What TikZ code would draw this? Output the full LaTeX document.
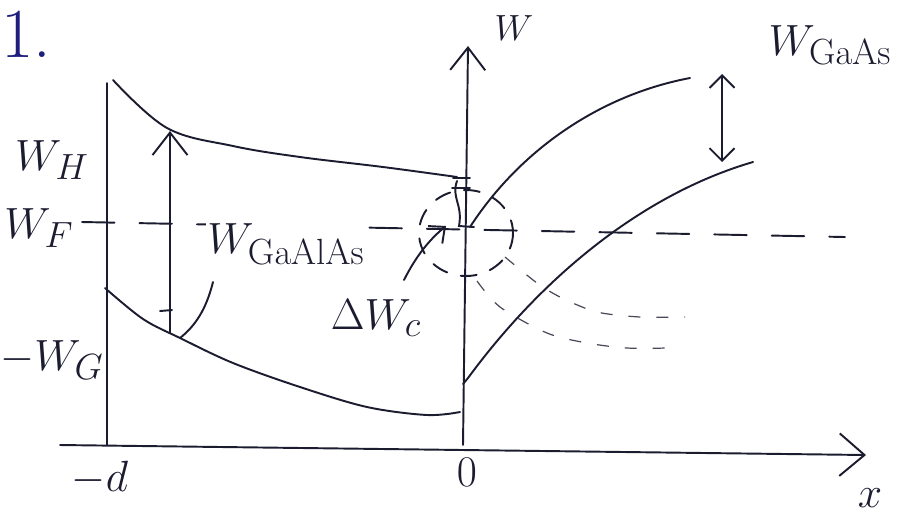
\documentclass[tikz,border=0pt]{standalone}
\usepackage{amsmath}
\usepackage{tikz}
\usetikzlibrary{arrows.meta}
\definecolor{inkc}{RGB}{28,28,48}
\definecolor{penblue}{RGB}{30,30,125}

\begin{document}
\begin{tikzpicture}[
  x=0.02cm, y=-0.02cm,
  ink/.style={line width=1.1pt, inkc, line cap=round},
  faint/.style={line width=0.7pt, inkc!80},
  dashl/.style={ink, dash pattern=on 6.5mm off 5mm},
  dashc/.style={ink, dash pattern=on 3.2mm off 2.8mm},
  dashs/.style={faint, dash pattern=on 2.4mm off 3.2mm},
  barb/.style={-{Straight Barb[length=4.5mm, width=7mm, line width=1.1pt]}},
  smallbarb/.style={-{Straight Barb[length=2.5mm, width=4.5mm, line width=1.1pt]}},
  lbl/.style={text=inkc, inner sep=1pt, font=\fontsize{28}{32}\selectfont},
  lblsm/.style={text=inkc, inner sep=1pt, font=\fontsize{21}{24}\selectfont},
]
\useasboundingbox (0,0) rectangle (905,515);
\clip (0,0) rectangle (905,515);

% page number
\node[text=penblue, font=\fontsize{40}{44}\selectfont, anchor=west, inner sep=0pt] (num) at (1,34) {1.};

% axes
\coordinate (orig) at (463,445);
\coordinate (dpos) at (107,445);
\draw[ink, -{Straight Barb[length=5mm, width=8.5mm, line width=1.1pt]}] (60,445) -- (866,455);
\draw[ink, barb] (orig) -- (468,46);
\draw[ink] (dpos) -- (107,83);

% Fermi level
\draw[dashl] (82,222) -- (845,237);

% GaAlAs band edges
\draw[ink] plot[smooth, tension=0.6] coordinates {(113,80) (167,128) (233,146) (300,157) (383,167) (457,177)};
\draw[ink] plot[smooth, tension=0.55] coordinates {(105,288) (143,319) (180,338) (233,363) (300,387) (367,407) (427,415) (460,412)};

% GaAs band edges
\draw[ink] (470,227) .. controls (520,150) and (600,95) .. (690,78);
\draw[ink] (463,384) -- (468,378) .. controls (540,280) and (640,195) .. (753,162);

% step at the interface
\draw[ink] (453,178) -- (470,178);
\draw[ink] (452,188) -- (470,188);
\draw[ink] (457,181) .. controls (451,198) and (463,204) .. (459,226) -- (474,227);

% circled region and its dashed continuations
\draw[dashc] (466,233) ellipse [x radius=47, y radius=43];
\draw[dashs] plot[smooth] coordinates {(477,281) (500,307) (547,333) (587,343) (627,348) (667,348)};
\draw[dashs] plot[smooth] coordinates {(505,257) (537,283) (562,298) (597,312) (640,317) (685,317)};

% gap of GaAlAs
\draw[ink, barb] (170,333) -- (170,131);
\draw[ink] (160,311) -- (172,310);
\draw[ink] (213,282) .. controls (206,310) and (195,326) .. (180,338);

% gap of GaAs
\draw[ink, {Straight Barb[length=2.5mm, width=5mm, line width=1.1pt]}-{Straight Barb[length=2.5mm, width=5mm, line width=1.1pt]}] (722,74) -- (722,162);

% offset arrow
\draw[ink, smallbarb] (404,280) .. controls (416,256) and (430,239) .. (446,226);

% labels
\node[lbl] (wh) at (52,160) {$W_H$};
\node[lbl] (wf) at (39,228) {$W_F$};
\node[lbl] (wg) at (52,360) {$-W_G$};
\node[lbl, fill=white] (wgaalas) at (286,244) {$W_{\mathrm{GaAlAs}}$};
\node[lbl] (dwc) at (376,318) {$\Delta W_c$};
\node[lbl] (wgaas) at (830,45) {$W_{\mathrm{GaAs}}$};
\node[lblsm] (wax) at (514,28) {$W$};
\node[lbl] (mind) at (100,478) {$-d$};
\node[lbl] (zero) at (467,472) {$0$};
\node[lbl] (xax) at (870,498) {$x$};
\end{tikzpicture}
\end{document}
